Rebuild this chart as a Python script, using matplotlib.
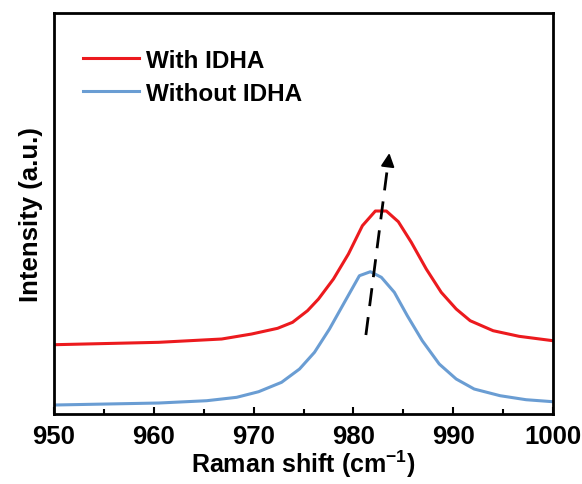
import matplotlib.pyplot as plt
from matplotlib.ticker import MultipleLocator

plt.rcParams['font.family'] = ['Liberation Sans', 'DejaVu Sans']
plt.rcParams['font.weight'] = 'bold'
plt.rcParams['mathtext.fontset'] = 'custom'
plt.rcParams['mathtext.bf'] = 'Liberation Sans:bold'
plt.rcParams['mathtext.rm'] = 'Liberation Sans:bold'

# Raman shift (cm-1) and intensity (a.u.)
with_x = [950, 960.5, 966.8, 969.8, 972.4, 973.9, 975.4, 976.5, 978, 979.5, 980.9,
          982.2, 983.3, 984.5, 985.8, 987.3, 988.8, 990.3, 991.7, 994, 996.6, 1000]
with_y = [69.3, 71.7, 75, 80, 85.7, 91.7, 103.3, 115, 135, 160, 188.3,
          203, 203, 192.3, 171.7, 145, 121.7, 105, 93.3, 83.3, 77.7, 73.3]

without_x = [950, 960.5, 965.3, 968.3, 970.5, 972.8, 974.6, 976.1, 977.6, 979.1, 980.6,
             981.7, 982.8, 984.1, 985.4, 986.9, 988.6, 990.3, 992.1, 994.7, 997.3, 1000]
without_y = [9, 11, 13.3, 16.7, 22.3, 31.7, 45, 61.7, 85, 111.7, 138.3,
             142.3, 136.7, 121.7, 98.3, 73.3, 50, 35, 25, 18.3, 14.3, 12.3]

# peak shift arrow (start, end)
arrow_start = (981.25, 79)
arrow_end = (983.6, 261)

fig = plt.figure(figsize=(5.82, 4.85), dpi=100)
ax = fig.add_axes([0.0928, 0.1443, 0.8574, 0.8268])

ax.plot(with_x, with_y, color='#ec1a1e', linewidth=2.2, label='With IDHA')
ax.plot(without_x, without_y, color='#6a9dd3', linewidth=2.2, label='Without IDHA')

ax.plot([arrow_start[0], arrow_end[0] - 0.13], [arrow_start[1], arrow_end[1] - 10],
        color='black', linewidth=2, linestyle=(0, (6.5, 4)))
ax.annotate('', xy=arrow_end, xytext=(arrow_end[0] - 0.16, arrow_end[1] - 13),
            arrowprops=dict(arrowstyle='-|>', color='black', lw=1.5,
                            mutation_scale=20, shrinkA=0, shrinkB=0))

ax.set_xlim(950, 1000)
ax.set_ylim(0, 401)
ax.xaxis.set_major_locator(MultipleLocator(10))
ax.xaxis.set_minor_locator(MultipleLocator(5))
ax.set_yticks([])
ax.tick_params(axis='x', which='major', direction='in', length=5, width=1.5,
               labelsize=18.5, pad=7)
ax.tick_params(axis='x', which='minor', direction='in', length=3.5, width=1.5)
for s in ax.spines.values():
    s.set_linewidth(2)

ax.set_xlabel('Raman shift (cm$^{\\mathbf{-1}}$)', fontsize=18, fontweight='bold', labelpad=0)
ax.set_ylabel('Intensity (a.u.)', fontsize=18.5, fontweight='bold', labelpad=8)

ax.legend(loc='upper left', bbox_to_anchor=(0.014, 0.965), frameon=False,
          handlelength=2.3, handletextpad=0.3, labelspacing=0.4,
          prop={'weight': 'bold', 'size': 17.5})

plt.savefig('out.png', dpi=100)
